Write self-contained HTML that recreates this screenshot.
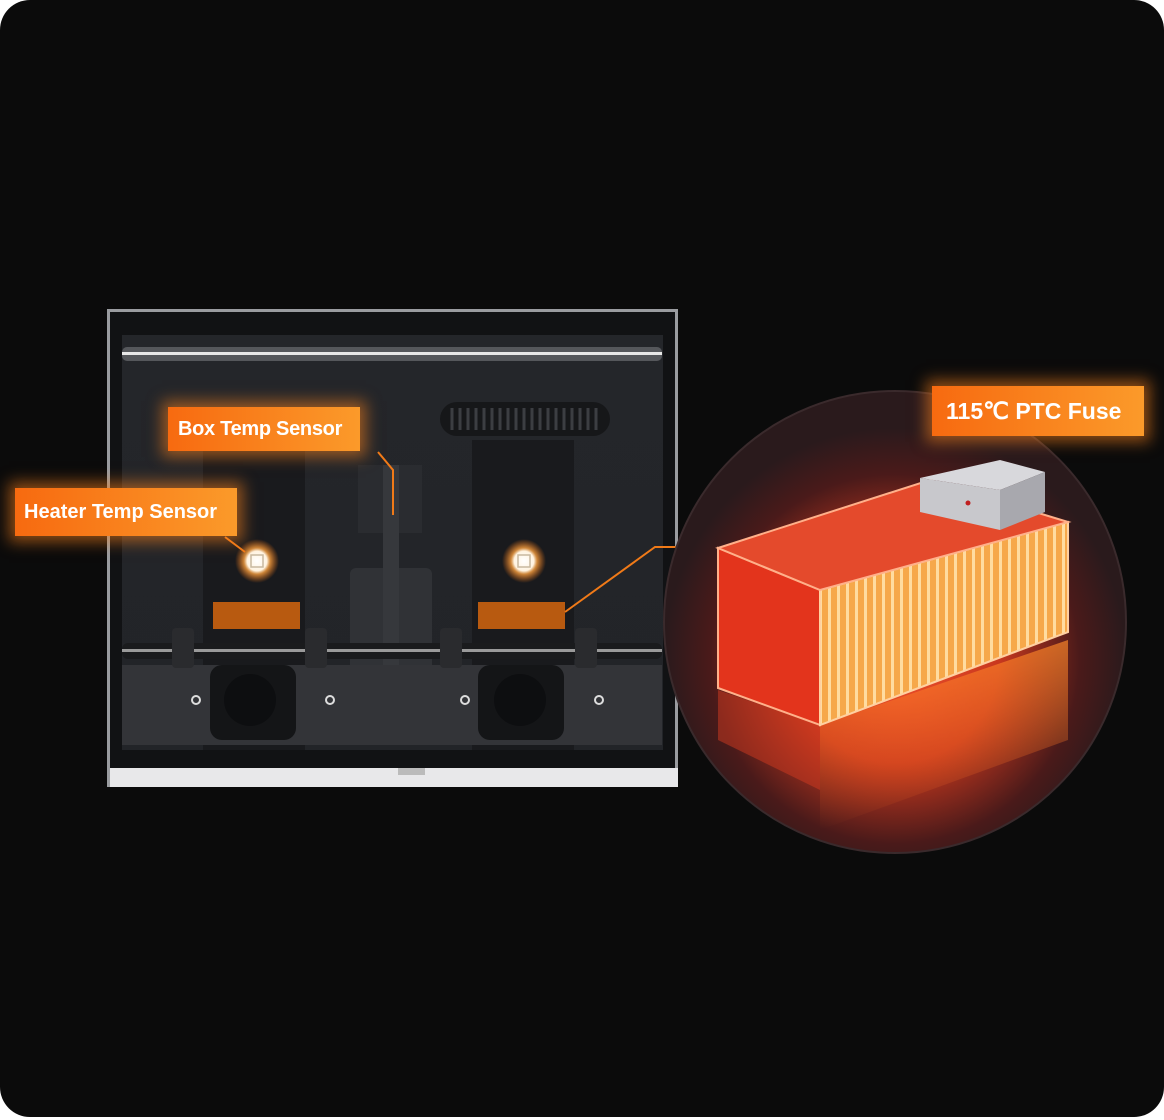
<!DOCTYPE html>
<html><head><meta charset="utf-8"><style>
html,body{margin:0;padding:0;background:#fff;}
.wrap{position:relative;width:1164px;height:1120px;overflow:hidden;background:#fff;}
.bg{position:absolute;left:0;top:0;width:1164px;height:1117px;background:#0b0b0b;border-radius:30px;}
.lbl{position:absolute;background:linear-gradient(90deg,#f76a10,#fb9a2a);color:#fff;font-family:"Liberation Sans",sans-serif;font-weight:bold;box-shadow:0 0 14px 6px rgba(250,130,30,.55);white-space:nowrap;}
</style></head><body><div class="wrap"><div class="bg"></div>
<svg width="1164" height="1120" style="position:absolute;left:0;top:0">
<defs>
<radialGradient id="gl" cx="50%" cy="50%" r="50%"><stop offset="0" stop-color="#fff"/><stop offset=".45" stop-color="#fff3e0"/><stop offset=".6" stop-color="#f9a040" stop-opacity=".8"/><stop offset="1" stop-color="#f07010" stop-opacity="0"/></radialGradient>
<radialGradient id="circ" cx="50%" cy="58%" r="50%"><stop offset="0" stop-color="#f0502a"/><stop offset=".45" stop-color="#c8381e"/><stop offset=".8" stop-color="#4a1a1a"/><stop offset="1" stop-color="#2a1a1c"/></radialGradient>
<linearGradient id="inner" x1="0" y1="0" x2="0" y2="1"><stop offset="0" stop-color="#24262a"/><stop offset="1" stop-color="#222428"/></linearGradient>
<linearGradient id="refl" x1="0" y1="0" x2="0" y2="1"><stop offset="0" stop-color="#ff8a2a" stop-opacity=".9"/><stop offset="1" stop-color="#ff6a20" stop-opacity="0"/></linearGradient>
<pattern id="stp" width="9" height="10" patternUnits="userSpaceOnUse"><rect width="9" height="10" fill="#f6a84a"/><rect x="0" width="3" height="10" fill="#ffdca0"/></pattern>
</defs>
<rect x="107" y="309" width="571" height="478" fill="#9a9ca0"/>
<rect x="110" y="312" width="565" height="456" fill="#111214"/>
<rect x="122" y="335" width="541" height="415" fill="url(#inner)"/>
<rect x="110" y="768" width="568" height="19" fill="#e8e8ea"/>
<rect x="398" y="768" width="27" height="7" fill="#bbb"/>
<rect x="122" y="347" width="540" height="14" rx="5" fill="#55575b"/>
<rect x="122" y="352" width="540" height="3" fill="#e8e8e8"/>
<rect x="440" y="402" width="170" height="34" rx="17" fill="#161719"/>
<g stroke="#3c3e42" stroke-width="3"><path d="M452 408v22M460 408v22M468 408v22M476 408v22M484 408v22M492 408v22M500 408v22M508 408v22M516 408v22M524 408v22M532 408v22M540 408v22M548 408v22M556 408v22M564 408v22M572 408v22M580 408v22M588 408v22M596 408v22"/></g>
<rect x="203" y="450" width="102" height="300" fill="#191a1d"/>
<rect x="472" y="440" width="102" height="310" fill="#191a1d"/>
<rect x="350" y="568" width="82" height="175" rx="6" fill="#303236"/>
<rect x="358" y="465" width="64" height="68" fill="#2a2c30"/>
<rect x="383" y="465" width="16" height="280" fill="#36383c"/>
<rect x="122" y="665" width="540" height="80" fill="#333438"/>
<rect x="210" y="665" width="86" height="75" rx="12" fill="#141517"/>
<rect x="478" y="665" width="86" height="75" rx="12" fill="#141517"/>
<circle cx="250" cy="700" r="26" fill="#0d0e10"/><circle cx="520" cy="700" r="26" fill="#0d0e10"/>
<g fill="none" stroke="#ddd" stroke-width="2"><circle cx="196" cy="700" r="4"/><circle cx="330" cy="700" r="4"/><circle cx="465" cy="700" r="4"/><circle cx="599" cy="700" r="4"/></g>
<rect x="213" y="602" width="87" height="27" fill="#b85a10"/>
<rect x="478" y="602" width="87" height="27" fill="#b85a10"/>
<rect x="122" y="643" width="540" height="16" rx="6" fill="#1a1b1d"/>
<rect x="122" y="649" width="540" height="3" fill="#9a9a9a"/>
<g fill="#2a2b2e"><rect x="172" y="628" width="22" height="40" rx="4"/><rect x="305" y="628" width="22" height="40" rx="4"/><rect x="440" y="628" width="22" height="40" rx="4"/><rect x="575" y="628" width="22" height="40" rx="4"/></g>
<circle cx="257" cy="561" r="22" fill="url(#gl)"/><circle cx="524" cy="561" r="22" fill="url(#gl)"/>
<rect x="251" y="555" width="12" height="12" fill="none" stroke="#c9b9a0" stroke-width="1.5"/>
<rect x="518" y="555" width="12" height="12" fill="none" stroke="#c9b9a0" stroke-width="1.5"/>
<g stroke="#f07a18" stroke-width="2" fill="none">
<path d="M378 452L393 470V515"/><path d="M225 537L245 552"/><path d="M565 612L655 547H680"/><path d="M1003 432L975 472"/>
</g>
<circle cx="895" cy="622" r="231" fill="url(#circ)"/>
<circle cx="895" cy="622" r="231" fill="none" stroke="#3a2a2c" stroke-width="2"/>
<polygon points="820,725 1068,640 1068,740 820,830" fill="url(#refl)" opacity=".75"/>
<polygon points="718,690 820,725 820,790 718,740" fill="#d03a20" opacity=".5"/>
<polygon points="718,548 820,590 820,725 718,688" fill="#e3341c" stroke="#ffb08a" stroke-width="2"/>
<polygon points="820,590 1068,522 1068,632 820,725" fill="url(#stp)" stroke="#ffd0a0" stroke-width="2"/>
<polygon points="718,548 930,480 1068,522 820,590" fill="#e44a2c" stroke="#ffb08a" stroke-width="2"/>
<polygon points="920,478 1000,460 1045,472 1000,490" fill="#d8d8dc"/>
<polygon points="920,478 1000,490 1000,530 920,512" fill="#c8c8cc"/>
<polygon points="1000,490 1045,472 1045,512 1000,530" fill="#a8a8ae"/>
<circle cx="968" cy="503" r="2.5" fill="#c02020"/>
</svg>
<div class="lbl" style="left:168px;top:407px;width:192px;height:44px;font-size:20px;line-height:44px;padding-left:10px;box-sizing:border-box;letter-spacing:-0.3px;">Box Temp Sensor</div>
<div class="lbl" style="left:15px;top:488px;width:222px;height:48px;font-size:20px;line-height:48px;padding-left:9px;box-sizing:border-box;">Heater Temp Sensor</div>
<div class="lbl" style="left:932px;top:386px;width:212px;height:50px;font-size:23px;line-height:50px;padding-left:14px;box-sizing:border-box;">115℃ PTC Fuse</div>
</div></body></html>
